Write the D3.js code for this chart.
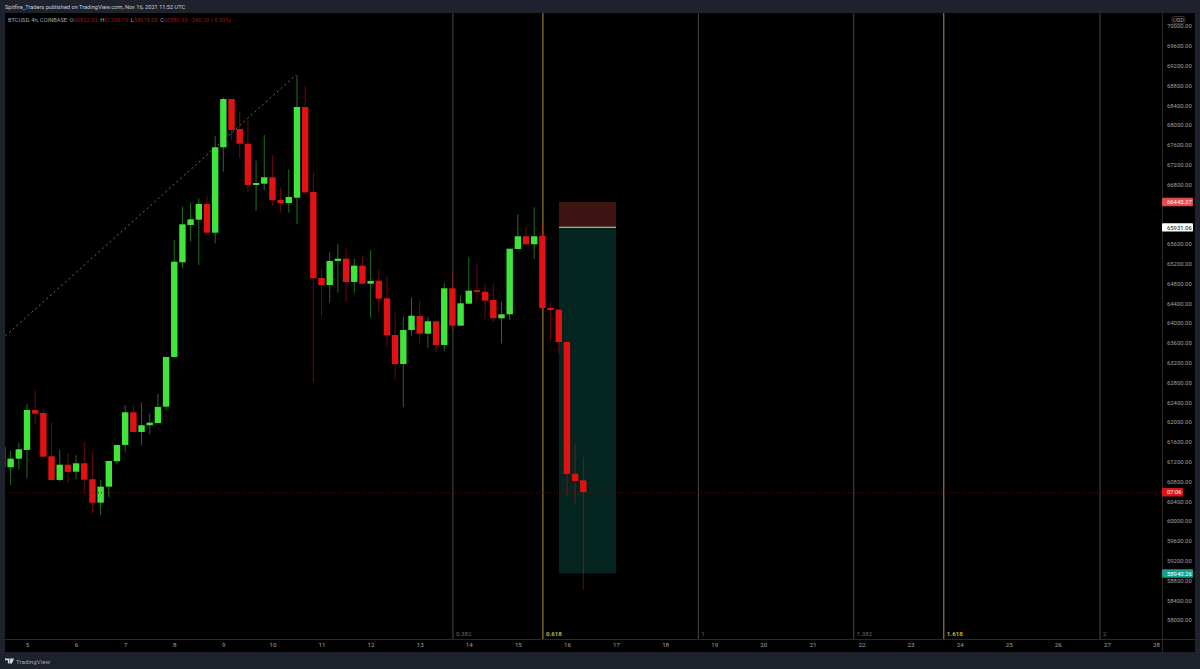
<!DOCTYPE html>
<html>
<head>
<meta charset="utf-8">
<script src="https://cdn.jsdelivr.net/npm/d3@7"></script>
<style>
html,body{margin:0;padding:0;background:#1e222d;overflow:hidden}
svg{display:block}
text{font-family:Roboto,"Liberation Sans",sans-serif}
</style>
</head>
<body>
<svg id="c" width="1200" height="669"></svg>
<script>
const opens  = [61500,61086,61259,61435,62243,62182,61307,60829,61138,60996,61166,60843,60370,60694,61207,61536,62196,61799,61934,61980,62310,63314,65226,65980,66087,66404,65824,67550,68525,67919,67622,66788,66814,66944,66485,66424,66531,68364,66647,64909,64768,65253,65299,64829,65158,64794,64855,64499,63758,63172,63859,64142,63784,64035,63556,64701,63946,64390,64661,64632,64465,64095,64176,65495,65752,65590,65758,64303,64269,63617,60956,60822.03];
const highs  = [61502,61421,61582,62364,62647,62257,61980,61435,61374,61334,61597,61380,60829,61213,61536,62344,62344,62390,62176,62566,63314,65677,66350,66430,66519,66572,67784,68559,68525,68269,68101,67279,67798,67394,66741,67105,69010,68788,67045,65085,65429,65596,65509,65293,65354,65475,65085,64956,64208,64128,64511,64451,64128,64035,64802,65004,64566,65327,65192,64802,64802,64431,65501,66202,65946,66337,66014,64431,64269,63617,61570,61295.73];
const lows   = [61086,60728,61045,60863,61954,61300,60829,60794,60774,60849,60566,60156,60122,60479,61166,61401,61799,61530,61758,61980,62229,63314,65105,65643,65172,65824,65610,67057,67697,67327,66632,66263,66687,66364,66228,66228,66000,66586,62794,64128,64410,64612,64418,64612,64794,64107,64229,63522,62863,62298,63744,63590,63501,63408,63441,63859,63946,64390,64465,64081,64015,63590,64061,65495,65590,65293,64229,63643,63394,60512,60358,58618.00];
const closes = [61090,61259,61449,62243,62168,61300,60829,61138,60991,61166,60835,60370,60694,61213,61536,62196,61799,61934,61987,62304,63314,65239,65994,66095,66404,65824,67550,68525,67899,67622,66788,66828,66944,66479,66418,66546,68364,66640,64903,64768,65253,65299,64829,65158,64794,64849,64491,63752,63172,63859,64148,63784,64035,63556,64701,63946,64398,64653,64627,64451,64095,64176,65501,65752,65590,65752,64303,64263,63617,60950,60809,60581.92];
const priceTicks = [58000,58400,58800,59200,59600,60000,60400,60800,61200,61600,62000,62400,62800,63200,63600,64000,64400,64800,65200,65600,66800,67200,67600,68000,68400,68800,69200,69600,70000];
const dayTicks = [5,6,7,8,9,10,11,12,13,14,15,16,17,18,19,20,21,22,23,24,25,26,27,28];
const fibLevels = ["0.382","0.618","1","1.382","1.618","2"];
const fibDays = [13.667,15.5,18.667,21.833,23.667,26.85];
const firstBarDay = 4.5, barsPerDay = 6;
const trendDays = [4.56,10.48];
const trendPrices = [63740,69010];
const zoneDays = [15.837,17.0];
const stopPrice = 66445.37, entryPrice = 65931.06, targetPrice = 58940.26, lastPrice = 60581.92;

const FRAME="#1e222d", GREEN="#3fe53a", RED="#e21212", AXIS="#a0a0a0";
const svg=d3.select("#c");
const x=d3.scaleLinear().domain([5,28]).range([27,1156]);
const y=d3.scaleLinear().domain([58000,70000]).range([620,26]);
const L=5,R=1195,T=13,B=652,PX=1162,TY=639;

svg.append("rect").attr("width",1200).attr("height",669).attr("fill",FRAME);
svg.append("rect").attr("x",L).attr("y",T).attr("width",R-L).attr("height",B-T).attr("fill","#000");
svg.append("defs").append("clipPath").attr("id","pane").append("rect").attr("x",L).attr("y",T).attr("width",PX-L).attr("height",TY-T);
const pane=svg.append("g").attr("clip-path","url(#pane)");

// fib time lines
const gold=d=>d==="0.618"||d==="1.618";
pane.selectAll("line.fib").data(fibLevels).join("line").attr("class","fib")
  .attr("x1",(d,i)=>x(fibDays[i])+.5).attr("x2",(d,i)=>x(fibDays[i])+.5)
  .attr("y1",T).attr("y2",TY).attr("stroke",d=>gold(d)?"#a8983c":"#4a4a4a").attr("stroke-width",1);
pane.selectAll("text.fib").data(fibLevels).join("text").attr("class","fib")
  .attr("x",(d,i)=>x(fibDays[i])+3.5).attr("y",636).attr("font-size",6.2)
  .attr("font-weight",d=>gold(d)?700:400)
  .attr("fill",d=>gold(d)?"#c2b23c":"#666").text(d=>d);

// trend line
pane.append("line").attr("x1",x(trendDays[0])).attr("y1",y(trendPrices[0]))
  .attr("x2",x(trendDays[1])).attr("y2",y(trendPrices[1]))
  .attr("stroke","#6e6e6e").attr("stroke-width",1).attr("stroke-dasharray","2 3");

// position zones
pane.append("rect").attr("x",x(zoneDays[0])).attr("width",x(zoneDays[1])-x(zoneDays[0]))
  .attr("y",y(stopPrice)).attr("height",y(entryPrice)-y(stopPrice)).attr("fill","#3d1412");
pane.append("rect").attr("x",x(zoneDays[0])).attr("width",x(zoneDays[1])-x(zoneDays[0]))
  .attr("y",y(entryPrice)).attr("height",y(targetPrice)-y(entryPrice)).attr("fill","#04241f");
pane.append("line").attr("x1",x(zoneDays[0])).attr("x2",x(zoneDays[1]))
  .attr("y1",y(entryPrice)).attr("y2",y(entryPrice)).attr("stroke","#a9a9a9").attr("stroke-width",1.3);

// last price line
svg.append("line").attr("x1",L).attr("x2",PX).attr("y1",y(lastPrice)+.5).attr("y2",y(lastPrice)+.5)
  .attr("stroke","#5a1010").attr("stroke-width",1).attr("stroke-dasharray","1 2");

// candles
const bars=opens.map((o,i)=>({i,o,h:highs[i],l:lows[i],c:closes[i],day:firstBarDay+i/barsPerDay}));
const col=d=>d.c>=d.o?GREEN:RED;
const g=pane.selectAll("g.bar").data(bars).join("g").attr("class","bar");
g.append("line").attr("x1",d=>x(d.day)).attr("x2",d=>x(d.day)).attr("y1",d=>y(d.h)).attr("y2",d=>y(d.l))
  .attr("stroke",col).attr("stroke-opacity",.48).attr("stroke-width",1);
g.append("rect").attr("x",d=>x(d.day)-3.2).attr("width",6.4)
  .attr("y",d=>y(Math.max(d.o,d.c))).attr("height",d=>Math.max(1.5,Math.abs(y(d.o)-y(d.c)))).attr("fill",col);

// axes
svg.append("line").attr("x1",PX+.5).attr("x2",PX+.5).attr("y1",T).attr("y2",B).attr("stroke","#2a2a2a");
svg.append("line").attr("x1",L).attr("x2",R).attr("y1",TY+.5).attr("y2",TY+.5).attr("stroke","#2a2a2a");

const ya=svg.append("g").attr("transform",`translate(${PX},0)`)
  .call(d3.axisRight(y).tickValues(priceTicks).tickSize(0).tickPadding(5).tickFormat(d3.format(".2f")));
ya.select(".domain").remove();
ya.selectAll("text").attr("font-size",5.9).attr("font-family","Roboto,sans-serif").attr("fill",AXIS);

const xa=svg.append("g").attr("transform",`translate(0,${TY})`)
  .call(d3.axisBottom(x).tickValues(dayTicks).tickSize(0).tickPadding(3.5).tickFormat(d3.format("d")));
xa.select(".domain").remove();
xa.selectAll("text").attr("font-size",6.2).attr("font-family","Roboto,sans-serif").attr("fill",AXIS);

// USD pill
svg.append("rect").attr("x",1172).attr("y",16.5).attr("width",13).attr("height",7).attr("rx",2).attr("fill","none").attr("stroke","#333");
svg.append("text").attr("x",1178.5).attr("y",22).attr("text-anchor","middle").attr("font-size",5.9).attr("fill",AXIS).text("USD");

// price labels
const tags=[[stopPrice,"66445.37","#e84b4b","#fff",31],[entryPrice,"65931.06","#fff","#111",31],[targetPrice,"58940.26","#12a08a","#fff",31],[lastPrice,"07:06","#d81616","#fff",21]];
const tg=svg.selectAll("g.tag").data(tags).join("g").attr("class","tag");
tg.append("rect").attr("x",PX).attr("y",d=>y(d[0])-4.2).attr("width",d=>d[4]).attr("height",8.4).attr("rx",1).attr("fill",d=>d[2]);
tg.append("text").attr("x",PX+5).attr("y",d=>y(d[0])+2.2).attr("font-size",5.9).attr("fill",d=>d[3]).text(d=>d[1]);

// header and legend
svg.append("text").attr("x",5).attr("y",9).attr("font-size",5.65).attr("fill","#c8ccd4")
  .text("Spitfire_Traders published on TradingView.com, Nov 16, 2021 11:52 UTC");
const lg=svg.append("text").attr("x",8).attr("y",21.5).attr("font-size",5.65).style("white-space","pre");
const legend=[["BTCUSD, 4h, COINBASE  ","#a8a8a8"],["O","#a8a8a8"],["60822.03  ","#a01414"],["H","#a8a8a8"],["61295.73  ","#a01414"],["L","#a8a8a8"],["58618.00  ","#a01414"],["C","#a8a8a8"],["60581.92  -240.10 (-0.39%)","#a01414"]];
lg.selectAll("tspan").data(legend).join("tspan").attr("fill",d=>d[1]).style("white-space","pre").text(d=>d[0]);

// footer
svg.append("path").attr("d","M5 658.5h4.6v5h-1.7v-3.2H5zM10.2 658.5h3.9l-2.2 5h-1.9z").attr("fill","#d8dbe2");
svg.append("text").attr("x",16).attr("y",663.5).attr("font-size",6.2).attr("fill","#9aa0ac").text("TradingView");
</script>
</body>
</html>
